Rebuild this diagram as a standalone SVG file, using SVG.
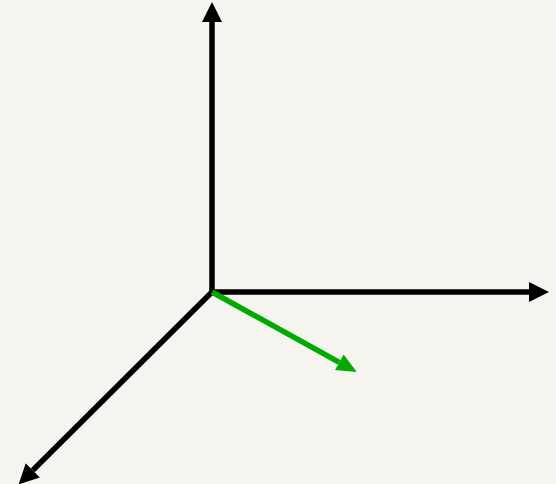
<svg xmlns="http://www.w3.org/2000/svg" width="556" height="484" viewBox="0 0 556 484">
<style>
.ax{stroke:#000;stroke-width:5.5;fill:none}
.gr{stroke:#00aa00;stroke-width:5.5;fill:none}
</style>
<defs>
<marker id="hb" markerUnits="userSpaceOnUse" markerWidth="20" markerHeight="20" viewBox="0 0 18 18" refX="0" refY="9" orient="auto"><path d="M0,0L18,9L0,18Z" fill="#000"/></marker>
<marker id="hg" markerUnits="userSpaceOnUse" markerWidth="20" markerHeight="20" viewBox="0 0 18 18" refX="0" refY="9" orient="auto"><path d="M0,1L18,9L0,17Z" fill="#00aa00"/></marker>
</defs>
<rect width="556" height="484" fill="#f5f4ee"/>
<g id="connectors">
<line id="y-axis" class="ax" x1="212" y1="294" x2="212" y2="22" marker-end="url(#hb)"/>
<line id="x-axis" class="ax" x1="210" y1="292" x2="529" y2="292" marker-end="url(#hb)"/>
<line id="z-axis" class="ax" x1="212" y1="292" x2="32.8" y2="470.3" marker-end="url(#hb)"/>
<line id="vector" class="gr" x1="212" y1="292" x2="339.3" y2="362.3" marker-end="url(#hg)"/>
</g>
</svg>
